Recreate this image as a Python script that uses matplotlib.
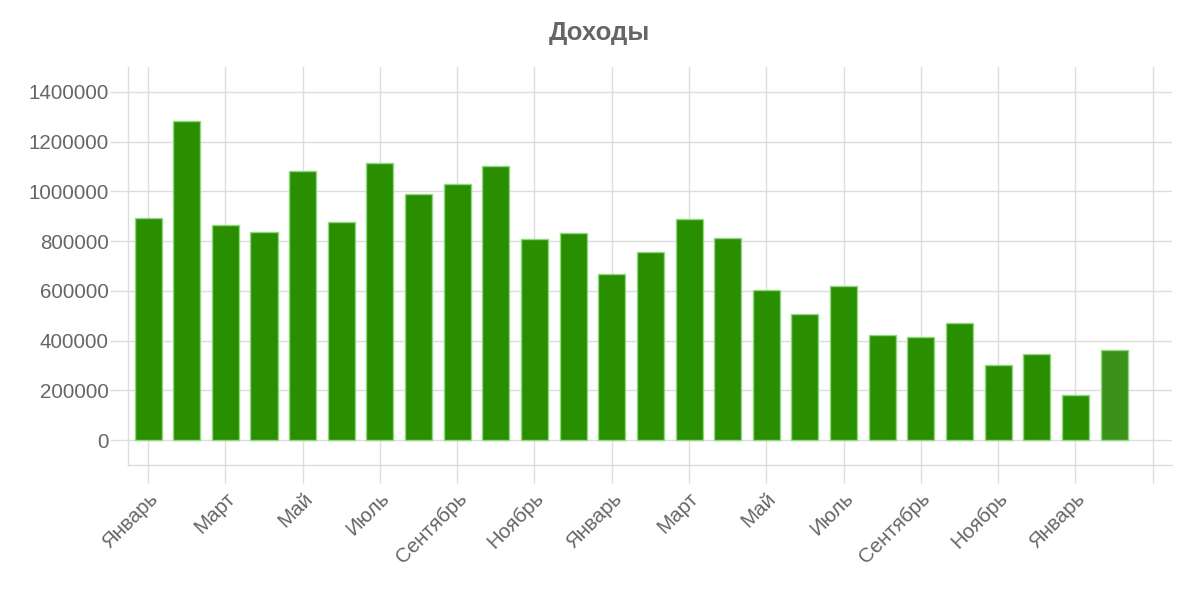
import numpy as np
import matplotlib
matplotlib.use('Agg')
import matplotlib.pyplot as plt

plt.rcParams['font.family'] = ['Liberation Sans', 'DejaVu Sans']

# monthly income, two years plus two months
months = [u'Январь', u'Февраль', u'Март', u'Апрель', u'Май', u'Июнь',
          u'Июль', u'Август', u'Сентябрь', u'Октябрь', u'Ноябрь', u'Декабрь'] * 2 + \
         [u'Январь', u'Февраль']
income = [894000, 1283000, 866000, 836000, 1083000, 878000,
          1113000, 989000, 1030000, 1101000, 810000, 834000,
          669000, 755000, 888000, 811000, 605000, 508000,
          619000, 424000, 414000, 470000, 304000, 348000,
          181000, 364000]
yticks = np.arange(0, 1400001, 200000)

grid_c = '#dddddd'
text_c = '#666666'
bar_c = '#2a8f00'
edge_c = '#8fd880'

fig = plt.figure(figsize=(11.98, 5.91), dpi=100)
ax = fig.add_axes([128/1198., 1 - 465/591., (1172-128)/1198., (465-67)/591.])

x = np.arange(len(income))
colors = [bar_c] * (len(income) - 1) + ['#3a921a']
ax.bar(x, income, width=0.7, color=colors, edgecolor=edge_c, linewidth=1, zorder=3)

ax.set_xlim(-0.52, 26.5)
ax.set_ylim(-100000, 1500000)

tick_pos = np.arange(0, 27, 2)
ax.set_xticks(tick_pos)
ax.set_xticklabels([months[i] if i < len(months) else '' for i in tick_pos],
                   rotation=45, ha='right', va='top', rotation_mode='anchor')
ax.set_yticks(yticks)
ax.set_yticklabels([str(v) for v in yticks])

ax.grid(True, color=grid_c, linewidth=1, zorder=0)
ax.set_axisbelow(True)

for s in ['top', 'right']:
    ax.spines[s].set_visible(False)
for s in ['left', 'bottom']:
    ax.spines[s].set_color(grid_c)
    ax.spines[s].set_linewidth(1)

ax.tick_params(axis='both', colors=grid_c, labelcolor=text_c, labelsize=14.8,
               length=13, width=1)
ax.tick_params(axis='y', pad=1)
ax.tick_params(axis='x', pad=4)

fig.text(0.5, 1 - 33/591., u'Доходы', ha='center', va='center',
         fontsize=18.5, fontweight='bold', color=text_c)

plt.savefig('out.png', dpi=100)
